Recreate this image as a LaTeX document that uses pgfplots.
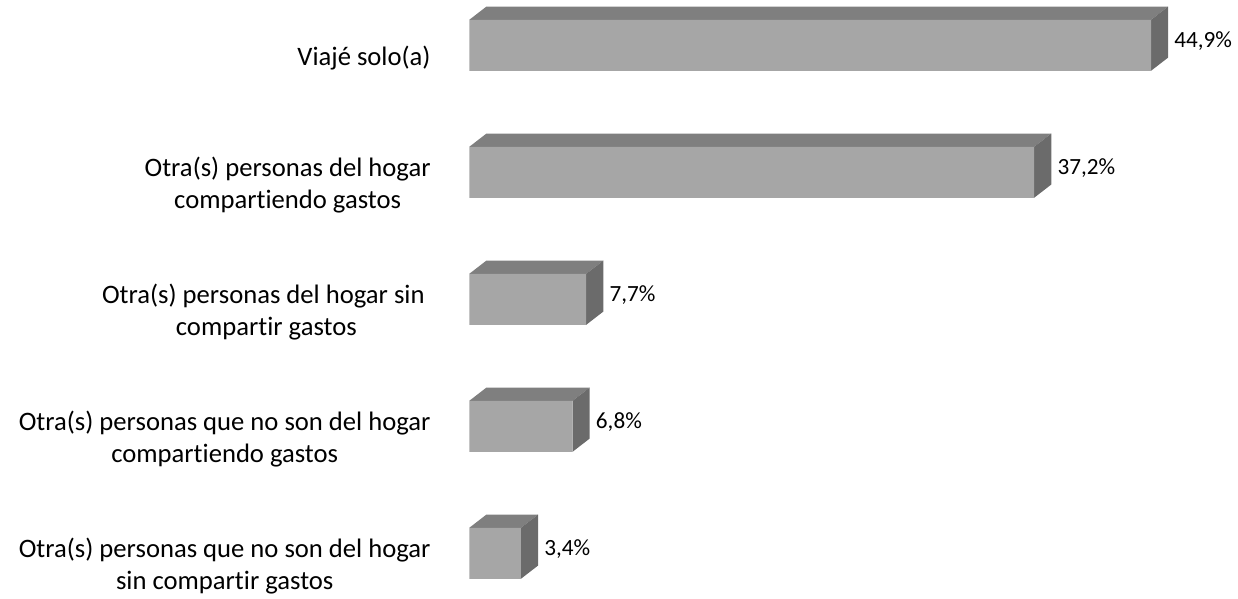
\documentclass[border=0pt]{standalone}
\usepackage{fontspec}
\setmainfont{Carlito}[Ligatures={NoCommon}]
\usepackage{pgfplots}
\pgfplotsset{compat=1.18}
\definecolor{frontc}{HTML}{A6A6A6}
\definecolor{topc}{HTML}{7F7F7F}
\definecolor{sidec}{HTML}{6B6B6B}
\begin{document}
\begin{tikzpicture}
\begin{axis}[
  scale only axis, width=619bp, height=297bp,
  xmin=-30.91, xmax=50.63, ymin=-0.3567, ymax=4.3205, y dir=reverse,
  axis line style={draw=none}, tick style={draw=none}, major tick length=0pt,
  xtick=\empty, ytick={0,1,2,3,4},
  yticklabels={
    {\strut Viajé solo(a)\strut},
    {\strut Otra(s) personas del hogar\\compartiendo gastos\strut},
    {\strut Otra(s) personas del hogar sin\hspace*{0.226em}\\compartir gastos\strut},
    {\strut Otra(s) personas que no son del hogar\\compartiendo gastos\strut},
    {\strut Otra(s) personas que no son del hogar\\sin compartir gastos\strut}},
  yticklabel style={font=\fontsize{13.32bp}{15.85bp}\selectfont, align=center,
    anchor=east, inner sep=0pt, xshift=215.5bp, yshift=-6.85bp, text=black},
  clip=false,
]
% top faces
\addplot[fill=topc, draw=none] coordinates {(0,-0.2008) (44.9,-0.2008) (46.033,-0.3055) (1.133,-0.3055)} -- cycle;
\addplot[fill=topc, draw=none] coordinates {(0,0.7992) (37.2,0.7992) (38.333,0.6945) (1.133,0.6945)} -- cycle;
\addplot[fill=topc, draw=none] coordinates {(0,1.7992) (7.7,1.7992) (8.833,1.6945) (1.133,1.6945)} -- cycle;
\addplot[fill=topc, draw=none] coordinates {(0,2.7992) (6.8,2.7992) (7.933,2.6945) (1.133,2.6945)} -- cycle;
\addplot[fill=topc, draw=none] coordinates {(0,3.7992) (3.4,3.7992) (4.533,3.6945) (1.133,3.6945)} -- cycle;
% side faces
\addplot[fill=sidec, draw=none] coordinates {(44.9,-0.2008) (44.9,0.2008) (46.033,0.0961) (46.033,-0.3055)} -- cycle;
\addplot[fill=sidec, draw=none] coordinates {(37.2,0.7992) (37.2,1.2008) (38.333,1.0961) (38.333,0.6945)} -- cycle;
\addplot[fill=sidec, draw=none] coordinates {(7.7,1.7992) (7.7,2.2008) (8.833,2.0961) (8.833,1.6945)} -- cycle;
\addplot[fill=sidec, draw=none] coordinates {(6.8,2.7992) (6.8,3.2008) (7.933,3.0961) (7.933,2.6945)} -- cycle;
\addplot[fill=sidec, draw=none] coordinates {(3.4,3.7992) (3.4,4.2008) (4.533,4.0961) (4.533,3.6945)} -- cycle;
% front faces
\addplot[xbar, bar width=0.4016, bar shift=0pt, fill=frontc, draw=none,
  nodes near coords, point meta=explicit symbolic,
  nodes near coords style={anchor=west, inner sep=0pt, xshift=11.5bp, yshift=2bp,
    font=\fontsize{11.6bp}{14bp}\selectfont, text=black}]
  coordinates {(44.9,0) [44,9\%] (37.2,1) [37,2\%] (7.7,2) [7,7\%] (6.8,3) [6,8\%] (3.4,4) [3,4\%]};
\end{axis}
\end{tikzpicture}
\end{document}
